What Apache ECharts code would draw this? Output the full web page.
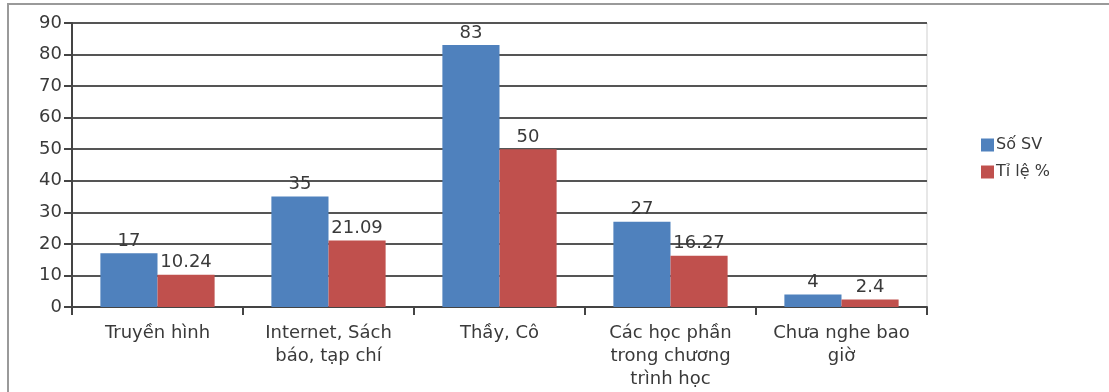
<!DOCTYPE html>
<html>
<head>
<meta charset="utf-8">
<script src="https://cdn.jsdelivr.net/npm/echarts@6/dist/echarts.min.js"></script>
<style>
  html, body { margin: 0; padding: 0; background: #fff; }
  #chart { width: 1109px; height: 392px; }
</style>
</head>
<body>
<div id="chart"></div>
<script>
// Sources through which students heard about the topic
const categories = [
  'Truyền hình',
  'Internet, Sách\nbáo, tạp chí',
  'Thầy, Cô',
  'Các học phần\ntrong chương\ntrình học',
  'Chưa nghe bao\ngiờ'
];
const soSV = [17, 35, 83, 27, 4];
const tiLe = [10.24, 21.09, 50, 16.27, 2.4];
const seriesNames = ['Số SV', 'Tỉ lệ %'];

const FONT = '"DejaVu Sans", "Noto Sans", sans-serif';
const TEXT = '#3a3a3a';
const chart = echarts.init(document.getElementById('chart'), null, { renderer: 'canvas' });

const labelStyle = {
  show: true,
  position: 'top',
  distance: 3,
  color: TEXT,
  fontFamily: FONT,
  fontSize: 18
};

chart.setOption({
  animation: false,
  textStyle: { fontFamily: FONT },
  graphic: [
    {
      type: 'rect',
      shape: { x: 8, y: 4, width: 1200, height: 500 },
      style: { fill: 'none', stroke: '#9a9a9a', lineWidth: 2 },
      silent: true
    }
  ],
  grid: {
    left: 72, right: 182, top: 23, bottom: 85,
    show: true, borderColor: '#cfcfcf', borderWidth: 1
  },
  legend: {
    orient: 'vertical',
    left: 976, top: 132,
    itemWidth: 13, itemHeight: 13, itemGap: 11,
    icon: 'rect',
    textStyle: { fontFamily: FONT, fontSize: 16, color: TEXT, padding: [0, 0, 0, -3] },
    data: seriesNames
  },
  xAxis: {
    type: 'category',
    data: categories,
    axisLine: { lineStyle: { color: '#444', width: 2 } },
    axisTick: { show: true, length: 8, lineStyle: { color: '#444', width: 2 } },
    axisLabel: {
      interval: 0, margin: 15, color: TEXT,
      fontFamily: FONT, fontSize: 18, lineHeight: 23, align: 'center'
    }
  },
  yAxis: {
    type: 'value',
    min: 0, max: 90, interval: 10,
    axisLine: { show: true, lineStyle: { color: '#444', width: 2 } },
    axisTick: { show: true, length: 8, lineStyle: { color: '#444', width: 2 } },
    axisLabel: { color: TEXT, fontFamily: FONT, fontSize: 18, margin: 10 },
    splitLine: { lineStyle: { color: '#555', width: 2 } }
  },
  series: [
    {
      name: seriesNames[0],
      type: 'bar',
      data: soSV,
      barWidth: '33.4%',
      barGap: '0%',
      barCategoryGap: '33.3%',
      itemStyle: { color: '#4F81BD' },
      label: labelStyle
    },
    {
      name: seriesNames[1],
      type: 'bar',
      data: tiLe,
      barWidth: '33.4%',
      barGap: '0%',
      barCategoryGap: '33.3%',
      itemStyle: { color: '#C0504D' },
      label: labelStyle
    }
  ]
});
</script>
</body>
</html>
